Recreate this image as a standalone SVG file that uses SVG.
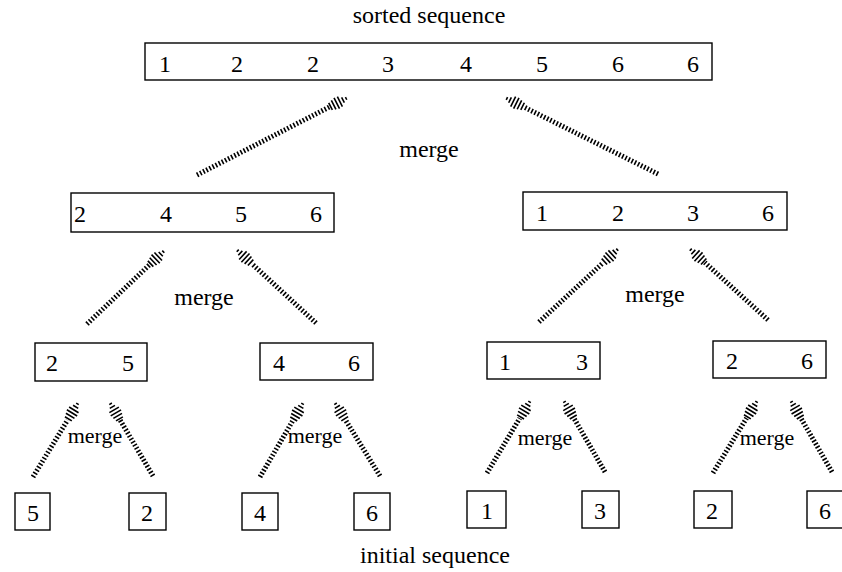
<svg xmlns="http://www.w3.org/2000/svg" width="842" height="572" viewBox="0 0 842 572">
<defs>
<style>
.box{fill:#fff;stroke:#000;stroke-width:1.4}
.t{font-family:"Liberation Serif","Times New Roman",serif;font-size:24px;fill:#000;text-anchor:middle}
.lbl{font-family:"Liberation Serif","Times New Roman",serif;font-size:24px;fill:#000;text-anchor:middle}
.sm{font-size:22px}
.shaft{stroke:#000;stroke-width:5;stroke-dasharray:1.6 1.9;fill:none;marker-end:url(#hh)}
</style>
<marker id="hh" markerUnits="userSpaceOnUse" markerWidth="24" markerHeight="16" refX="0" refY="8" orient="auto" overflow="visible">
<path d="M1.5 4V12M5 3V13M8.5 2V14M12 2.5V13.5M15.5 5V11M19 6.5V9.5" stroke="#000" stroke-width="1.6" fill="none"/>
</marker>
</defs>
<rect width="842" height="572" fill="#fff"/>
<text class="lbl" x="429" y="23">sorted sequence</text>
<text class="lbl" x="435" y="563">initial sequence</text>

<g id="n-root">
<rect class="box" x="145" y="43" width="567" height="37"/>
<text class="t" x="165" y="72">1</text><text class="t" x="237" y="72">2</text><text class="t" x="313" y="72">2</text><text class="t" x="388" y="72">3</text><text class="t" x="466" y="72">4</text><text class="t" x="542" y="72">5</text><text class="t" x="618" y="72">6</text><text class="t" x="693" y="72">6</text>
</g>
<g id="n-l">
<rect class="box" x="71" y="193" width="263" height="39"/>
<text class="t" x="80" y="222">2</text><text class="t" x="166" y="222">4</text><text class="t" x="241" y="222">5</text><text class="t" x="316" y="222">6</text>
</g>
<g id="n-r">
<rect class="box" x="523" y="192" width="264" height="38"/>
<text class="t" x="542" y="221">1</text><text class="t" x="618" y="221">2</text><text class="t" x="693" y="221">3</text><text class="t" x="768" y="221">6</text>
</g>
<g id="n-ll">
<rect class="box" x="35" y="343" width="112" height="38"/>
<text class="t" x="52" y="371">2</text><text class="t" x="128" y="371">5</text>
</g>
<g id="n-lr">
<rect class="box" x="260" y="343" width="113" height="37"/>
<text class="t" x="279" y="371">4</text><text class="t" x="354" y="371">6</text>
</g>
<g id="n-rl">
<rect class="box" x="487" y="342" width="113" height="37"/>
<text class="t" x="505" y="370">1</text><text class="t" x="582" y="370">3</text>
</g>
<g id="n-rr">
<rect class="box" x="713" y="341" width="113" height="37"/>
<text class="t" x="732" y="369">2</text><text class="t" x="807" y="369">6</text>
</g>
<g id="leaf1"><rect class="box" x="15" y="493" width="35" height="37"/><text class="t" x="33" y="521">5</text></g>
<g id="leaf2"><rect class="box" x="129" y="493" width="37" height="37"/><text class="t" x="147" y="521">2</text></g>
<g id="leaf3"><rect class="box" x="242" y="493" width="36" height="37"/><text class="t" x="260" y="521">4</text></g>
<g id="leaf4"><rect class="box" x="354" y="493" width="36" height="37"/><text class="t" x="372" y="521">6</text></g>
<g id="leaf5"><rect class="box" x="467" y="491" width="39" height="37"/><text class="t" x="487" y="519">1</text></g>
<g id="leaf6"><rect class="box" x="582" y="491" width="37" height="37"/><text class="t" x="600" y="519">3</text></g>
<g id="leaf7"><rect class="box" x="694" y="491" width="38" height="37"/><text class="t" x="712" y="519">2</text></g>
<g id="leaf8"><rect class="box" x="807" y="491" width="45" height="37"/><text class="t" x="825" y="519">6</text></g>

<g id="connectors">
<line class="shaft" x1="197" y1="175" x2="329.2" y2="107.1"/>
<line class="shaft" x1="658" y1="174" x2="523.9" y2="107"/>
<line class="shaft" x1="87" y1="324" x2="149.5" y2="264.8"/>
<line class="shaft" x1="316" y1="323" x2="251.7" y2="263.6"/>
<line class="shaft" x1="539" y1="322" x2="603.3" y2="262.6"/>
<line class="shaft" x1="768" y1="320" x2="704.8" y2="262.5"/>
<line class="shaft" x1="33" y1="477" x2="67.6" y2="420.1"/>
<line class="shaft" x1="153" y1="476" x2="120.2" y2="420.2"/>
<line class="shaft" x1="260" y1="477" x2="293" y2="420.3"/>
<line class="shaft" x1="380" y1="476" x2="345.5" y2="420"/>
<line class="shaft" x1="487" y1="473" x2="519.8" y2="418.2"/>
<line class="shaft" x1="605" y1="472" x2="574" y2="418.3"/>
<line class="shaft" x1="713" y1="473" x2="746.6" y2="418.1"/>
<line class="shaft" x1="832" y1="472" x2="801" y2="418.3"/>
</g>
<g id="labels">
<text class="lbl" x="429" y="157">merge</text>
<text class="lbl" x="204" y="305">merge</text>
<text class="lbl" x="655" y="302">merge</text>
<text class="lbl sm" x="95" y="443">merge</text>
<text class="lbl sm" x="315" y="443">merge</text>
<text class="lbl sm" x="545" y="445">merge</text>
<text class="lbl sm" x="767" y="445">merge</text>
</g>
</svg>
